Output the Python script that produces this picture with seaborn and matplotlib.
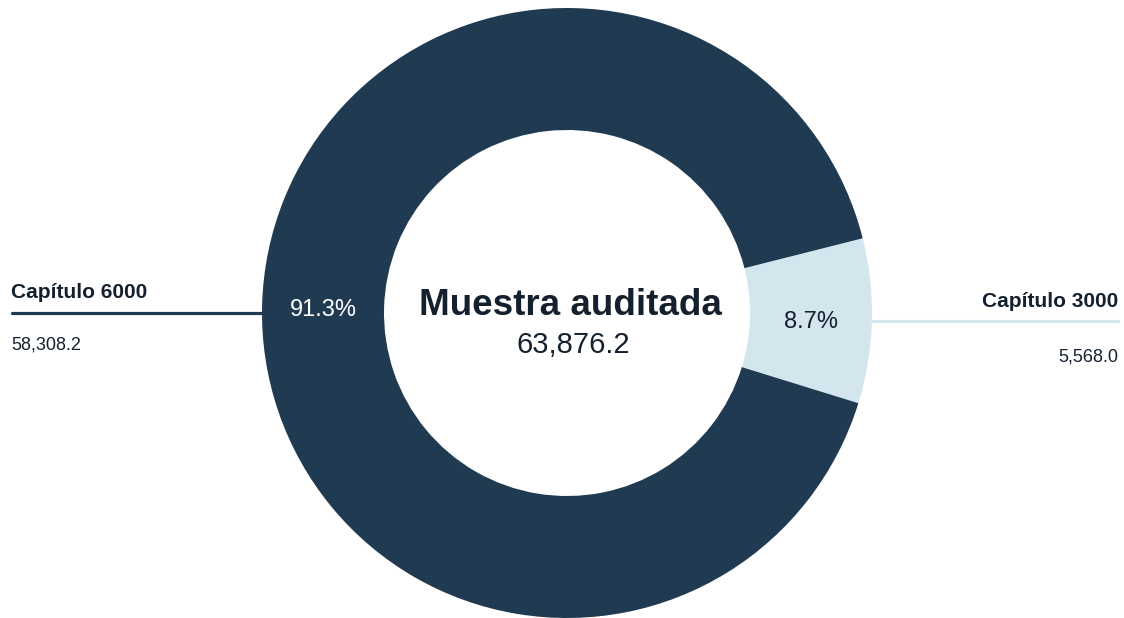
import matplotlib
matplotlib.use("Agg")
import matplotlib.pyplot as plt
import seaborn as sns

# Datos
categorias = ["Capítulo 3000", "Capítulo 6000"]
montos = [5568.0, 58308.2]
titulo_centro = "Muestra auditada"
total = sum(montos)

sns.set_theme(style="white")
plt.rcParams["font.family"] = ["Liberation Sans", "DejaVu Sans"]

colores = sns.color_palette(["#d3e6ee", "#203a51"])
texto = "#14202e"

W, H = 1124, 618
fig = plt.figure(figsize=(W / 100, H / 100), dpi=100)
ax = fig.add_axes([0, 0, 1, 1])

cx, cy, r = 567, H - 313, 305
wedges, _, pct = ax.pie(
    montos,
    colors=colores,
    startangle=-17.2,
    center=(cx, cy),
    radius=r,
    autopct="%1.1f%%",
    pctdistance=0.8,
    wedgeprops=dict(width=r * 0.4, linewidth=0),
    frame=True,
)
ax.set_xlim(0, W)
ax.set_ylim(0, H)
ax.set_aspect("equal")
ax.axis("off")
pct[0].set_color(texto)
pct[1].set_color("white")
for t in pct:
    t.set_fontsize(17)
pct[0].set_position((cx + 244, H - 322))
pct[1].set_position((cx - 244, H - 310))

# Centro
ax.text(cx + 3, H - 315, titulo_centro, ha="center", va="baseline",
        fontsize=26.5, fontweight="bold", color=texto)
ax.text(cx + 6, H - 353, f"{total:,.1f}", ha="center", va="baseline",
        fontsize=21, color=texto)

# Etiqueta izquierda (Capítulo 6000)
ax.plot([12, cx - r], [H - 313, H - 313], color=colores[1], lw=2.3,
        solid_capstyle="round")
ax.text(11, H - 298, categorias[1], ha="left", va="baseline",
        fontsize=15, fontweight="bold", color=texto)
ax.text(11, H - 350, f"{montos[1]:,.1f}", ha="left", va="baseline",
        fontsize=13, color=texto)

# Etiqueta derecha (Capítulo 3000)
ax.plot([cx + r, 1118], [H - 321, H - 321], color=colores[0], lw=2.3,
        solid_capstyle="round")
ax.text(1118, H - 307, categorias[0], ha="right", va="baseline",
        fontsize=15, fontweight="bold", color=texto)
ax.text(1118, H - 362, f"{montos[0]:,.1f}", ha="right", va="baseline",
        fontsize=13, color=texto)

fig.savefig("out.png", dpi=100, facecolor="white")
